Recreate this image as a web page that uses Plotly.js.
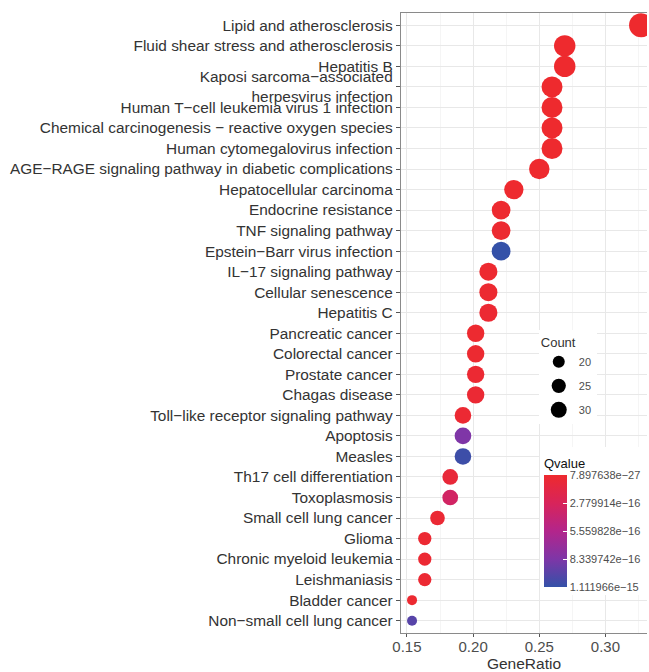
<!DOCTYPE html>
<html>
<head>
<meta charset="utf-8">
<script src="https://cdn.plot.ly/plotly-3.0.1.min.js"></script>
<style>html,body{margin:0;padding:0;background:#fff;}#chart{width:649px;height:672px;}</style>
</head>
<body>
<div id="chart"></div>
<script>
// Pathways, top to bottom as drawn
var pathways = [
  "Lipid and atherosclerosis",
  "Fluid shear stress and atherosclerosis",
  "Hepatitis B",
  "Kaposi sarcoma\u2212associated<br>herpesvirus infection",
  "Human T\u2212cell leukemia virus 1 infection",
  "Chemical carcinogenesis \u2212 reactive oxygen species",
  "Human cytomegalovirus infection",
  "AGE\u2212RAGE signaling pathway in diabetic complications",
  "Hepatocellular carcinoma",
  "Endocrine resistance",
  "TNF signaling pathway",
  "Epstein\u2212Barr virus infection",
  "IL\u221217 signaling pathway",
  "Cellular senescence",
  "Hepatitis C",
  "Pancreatic cancer",
  "Colorectal cancer",
  "Prostate cancer",
  "Chagas disease",
  "Toll\u2212like receptor signaling pathway",
  "Apoptosis",
  "Measles",
  "Th17 cell differentiation",
  "Toxoplasmosis",
  "Small cell lung cancer",
  "Glioma",
  "Chronic myeloid leukemia",
  "Leishmaniasis",
  "Bladder cancer",
  "Non\u2212small cell lung cancer"
];
var geneCount = [34,28,28,27,27,27,27,26,24,23,23,23,22,22,22,21,21,21,21,20,20,20,19,19,18,17,17,17,16,16];
var totalGenes = 104;
var qvalue = [
  7.897638e-27, 1.0e-20, 2.0e-20, 5.0e-19, 1.0e-19, 3.0e-20, 2.0e-19, 1.0e-18,
  5.0e-18, 1.0e-17, 2.0e-17, 1.111966e-15, 1.0e-17, 2.0e-17, 3.0e-17,
  1.0e-17, 2.0e-17, 3.0e-17, 4.0e-17, 3.0e-17, 8.3e-16, 1.08e-15,
  7.0e-17, 3.3e-16, 4.0e-17, 3.0e-17, 3.0e-17, 3.0e-17, 2.0e-17, 9.8e-16
];
var legendCounts = [20, 25, 30];
var qTicks = [7.897638e-27, 2.779914e-16, 5.559828e-16, 8.339742e-16, 1.111966e-15];
var qTickLabels = ["7.897638e\u221227","2.779914e\u221216","5.559828e\u221216","8.339742e\u221216","1.111966e\u221215"];
var xTicks = [0.15, 0.20, 0.25, 0.30];

var geneRatio = geneCount.map(function(c){ return c / totalGenes; });
var cMin = Math.min.apply(null, geneCount), cMax = Math.max.apply(null, geneCount);
function dotSize(c){ return 10 + 14 * Math.sqrt((c - cMin) / (cMax - cMin)); }
function legendSize(c){ return 12 + (c - 20) * 0.45; }
var qMin = Math.min.apply(null, qvalue), qMax = Math.max.apply(null, qvalue);

// colour scale: bottom of bar = high q (blue), top = low q (red); plotted on -q
var cscale = [
  [0.0, "#3451a8"],
  [0.25, "#7e36a7"],
  [0.5, "#b3258b"],
  [0.75, "#d8245a"],
  [1.0, "#ee2a2e"]
];

var traces = [{
  type: "scatter",
  mode: "markers",
  x: geneRatio,
  y: pathways,
  showlegend: false,
  hoverinfo: "x+y",
  marker: {
    size: geneCount.map(dotSize),
    color: qvalue.map(function(q){ return -q; }),
    colorscale: cscale,
    cmin: -qMax,
    cmax: -qMin,
    opacity: 1,
    line: {width: 0},
    colorbar: {
      title: {text: "Qvalue", side: "top", font: {family: "Liberation Sans, Arial, sans-serif", size: 13, color: "#111"}},
      x: 0.565, xanchor: "left",
      y: 0.2997, yanchor: "top",
      len: 148, lenmode: "pixels",
      thickness: 23,
      outlinewidth: 0,
      bgcolor: "#ffffff",
      xpad: 4, ypad: 8,
      tickvals: qTicks.map(function(q){ return -q; }),
      ticktext: qTickLabels,
      ticks: "inside", ticklen: 4, tickcolor: "#ffffff", tickwidth: 1,
      tickfont: {family: "Liberation Sans, Arial, sans-serif", size: 11, color: "#4d4d4d"}
    }
  }
}];

legendCounts.forEach(function(c, i){
  traces.push({
    type: "scatter", mode: "markers",
    x: [null], y: [null],
    name: String(c),
    legendgroup: "g" + i,
    showlegend: true,
    marker: {size: legendSize(c), color: "#000000"},
    hoverinfo: "skip"
  });
});

var layout = {
  width: 649, height: 672,
  margin: {l: 401, r: 0, t: 13, b: 39},
  paper_bgcolor: "#ffffff",
  plot_bgcolor: "#ffffff",
  font: {family: "Liberation Sans, Arial, sans-serif", color: "#333333"},
  xaxis: {
    range: [0.1455, 0.3314],
    tickvals: xTicks,
    tickformat: ".2f",
    ticks: "outside", ticklen: 3, tickcolor: "#555555",
    ticklabelstandoff: -3,
    tickfont: {size: 15, color: "#4d4d4d"},
    showgrid: true, gridcolor: "#e8e8e8", gridwidth: 1,
    minor: {dtick: 0.025, tick0: 0.125, showgrid: true, gridcolor: "#f3f3f3", gridwidth: 0.8, ticks: ""},
    zeroline: false,
    showline: true, mirror: true, linecolor: "#8a8a8a", linewidth: 1.2,
    title: {text: "GeneRatio", font: {size: 15.5, color: "#333333"}, standoff: 6}
  },
  yaxis: {
    type: "category",
    categoryorder: "array",
    categoryarray: pathways.slice().reverse(),
    range: [-0.6, 29.6],
    ticks: "outside", ticklen: 4, tickcolor: "#555555",
    tickfont: {size: 15.4, color: "#333333"},
    showgrid: true, gridcolor: "#e8e8e8", gridwidth: 1,
    zeroline: false,
    showline: true, mirror: false, linecolor: "#8a8a8a", linewidth: 1.2
  },
  legend: {
    title: {text: "Count", font: {size: 13, color: "#333333"}},
    x: 0.56, xanchor: "left",
    y: 0.488, yanchor: "top",
    bgcolor: "#ffffff",
    borderwidth: 0,
    itemsizing: "trace",
    traceorder: "grouped",
    tracegroupgap: 5,
    font: {size: 11, color: "#4d4d4d"}
  },
  showlegend: true
};

Plotly.newPlot("chart", traces, layout, {displayModeBar: false, staticPlot: true});
</script>
</body>
</html>
